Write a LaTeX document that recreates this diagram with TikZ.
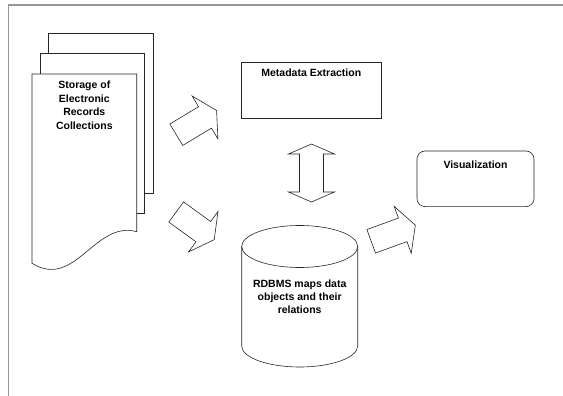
\documentclass[tikz,border=0pt]{standalone}
\usepackage{fontspec}
\setmainfont{Liberation Sans}
\usetikzlibrary{positioning}
\definecolor{framegray}{RGB}{150,150,150}

\begin{document}
\begin{tikzpicture}[x=1pt,y=-1pt,
  outline/.style={draw=black!85,line width=0.6pt},
  sheet/.style={outline,fill=white},
  lbl/.style={font=\fontsize{10.5}{13.4}\selectfont\bfseries,align=center,inner sep=0pt},
  blkarrow/.pic={\draw[outline] (0,-12.5) -- (33.5,-12.5) -- (33.5,-25) -- (47,0)
      -- (33.5,25) -- (33.5,12.5) -- (0,12.5) -- cycle;}]
  \useasboundingbox (0,0) rectangle (563,396);
  \draw[framegray,line width=1.5pt] (8.5,396) -- (8.5,5) -- (563,5);

  % stack of records
  \draw[sheet] (48.3,33.3) rectangle (153.3,193.3);
  \draw[sheet] (40,53.3) rectangle (144.3,213.3);
  \draw[sheet] (32,74) -- (136.7,74) -- (136.7,231.7)
    .. controls (95,220) and (75,290) .. (32,263.3) -- cycle;
  \node[lbl,anchor=north] (store) at (84.3,81) {Storage of\\Electronic\\Records\\Collections};

  \node[outline,lbl,anchor=north,minimum width=139.3pt,text height=14.5pt,text depth=41.5pt]
    (meta) at (311.3,62) {Metadata Extraction};
  \node[outline,lbl,anchor=north,minimum width=117pt,rounded corners=8pt,text height=17.1pt,text depth=38.5pt]
    (vis) at (475.5,150.7) {Visualization};

  % database
  \draw[sheet] (241.7,246.5) -- (241.7,346) arc[start angle=180,end angle=360,x radius=58pt,y radius=21pt]
    -- (357.7,246.5);
  \draw[outline] (299.7,246.5) ellipse[x radius=58pt,y radius=21pt];
  \node[lbl,anchor=north] (rdbms) at (299.7,279.2) {RDBMS maps data\\objects and their\\relations};

  % block arrows
  \pic[rotate=31] (toMeta) at (176.3,134.7) {blkarrow};
  \pic[rotate=-36] (toDb) at (176.2,212) {blkarrow};
  \pic[rotate=20] (toVis) at (371.2,241.3) {blkarrow};
  \draw[outline] (311.5,144) -- (334.5,154) -- (323.5,154) -- (323.5,192) -- (334.5,192)
    -- (311.5,202) -- (288.5,192) -- (299.5,192) -- (299.5,154) -- (288.5,154) -- cycle;
\end{tikzpicture}
\end{document}
